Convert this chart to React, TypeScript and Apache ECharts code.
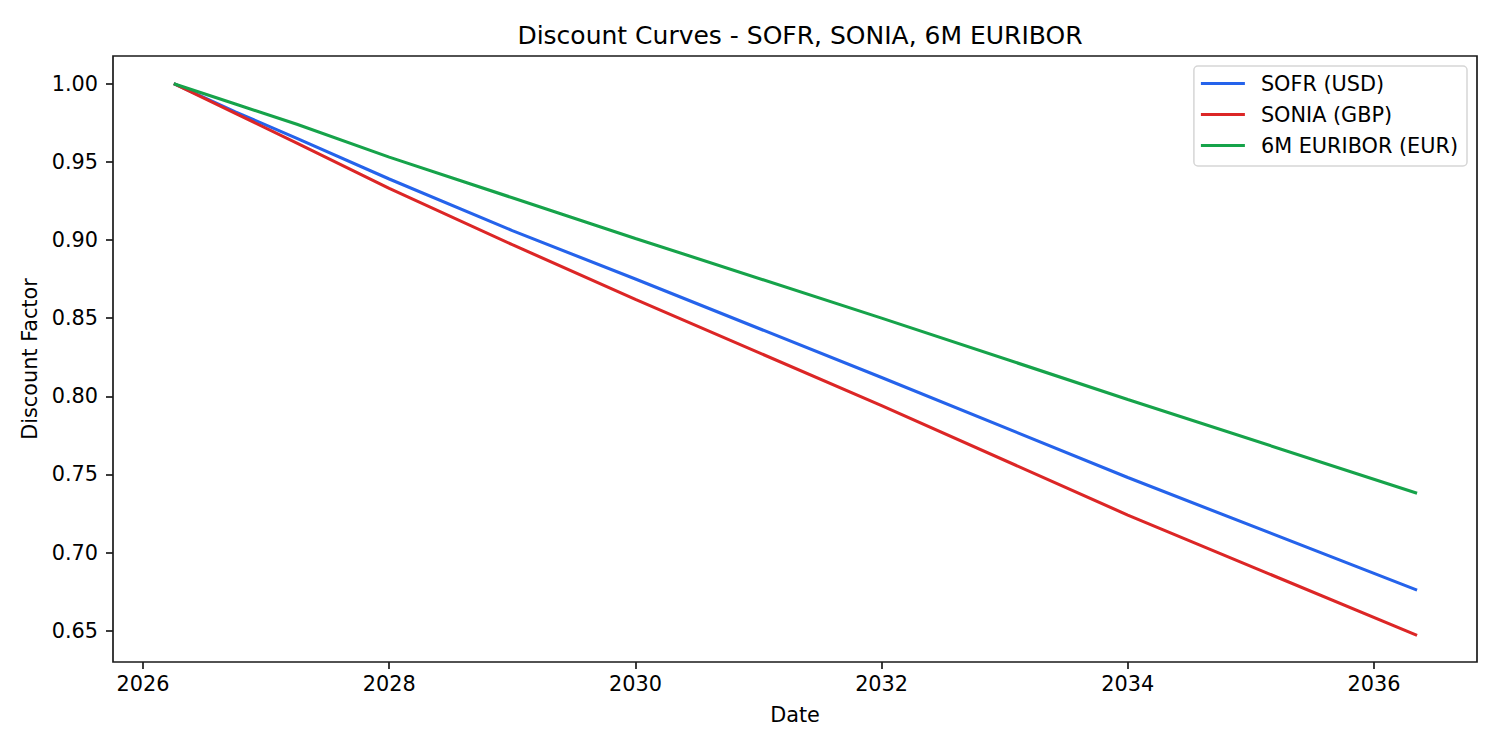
import { useEffect, useRef } from 'react'
import * as echarts from 'echarts'

// pillar dates as decimal years (2026-04-01 .. 2036-05-07)
const pillarYears = [2026.25, 2026.75, 2027.25, 2028.0, 2029.0, 2030.0, 2032.0, 2034.0, 2036.35]

const sofrUsd = [1.0, 0.982, 0.965, 0.939, 0.906, 0.875, 0.812, 0.748, 0.676]
const soniaGbp = [1.0, 0.981, 0.962, 0.933, 0.897, 0.862, 0.794, 0.724, 0.647]
const euribor6m = [1.0, 0.987, 0.974, 0.953, 0.927, 0.901, 0.85, 0.798, 0.738]

const yearTicks = [2026, 2028, 2030, 2032, 2034, 2036]
const dfTicks = [0.65, 0.7, 0.75, 0.8, 0.85, 0.9, 0.95, 1.0]

const FONT = 'DejaVu Sans'
const INK = '#1a1a1a'

function toPairs(values: number[]) {
  return values.map((v, i) => [pillarYears[i], v])
}

export default function App() {
  const ref = useRef<HTMLDivElement>(null)

  useEffect(() => {
    const el = ref.current
    if (!el) return
    const chart = echarts.init(el, undefined, { renderer: 'svg' })

    const line = (name: string, color: string, values: number[]) => ({
      name,
      type: 'line' as const,
      data: toPairs(values),
      showSymbol: false,
      color,
      lineStyle: { color, width: 3.1 },
    })

    chart.setOption({
      animation: false,
      backgroundColor: '#ffffff',
      textStyle: { fontFamily: FONT, color: '#000' },
      title: {
        text: 'Discount Curves - SOFR, SONIA, 6M EURIBOR',
        left: 795,
        top: 18,
        textAlign: 'center',
        textStyle: { fontFamily: FONT, fontSize: 25, fontWeight: 'normal', color: '#000' },
      },
      legend: {
        orient: 'vertical',
        right: 33,
        top: 66,
        icon: 'rect',
        itemWidth: 44,
        itemHeight: 3,
        itemGap: 10,
        padding: [7, 9, 10, 7],
        borderColor: '#d6d6d6',
        borderWidth: 1.5,
        borderRadius: 4,
        backgroundColor: 'rgba(255,255,255,0.8)',
        textStyle: {
          fontFamily: FONT,
          fontSize: 20.8,
          lineHeight: 20,
          color: '#000',
          padding: [0, 0, 0, 11],
        },
      },
      grid: {
        left: 113,
        right: 23,
        top: 56,
        bottom: 88,
        show: true,
        borderColor: INK,
        borderWidth: 1.7,
      },
      xAxis: {
        type: 'value',
        min: 2025.756,
        max: 2036.837,
        name: 'Date',
        nameLocation: 'middle',
        nameGap: 42,
        nameTextStyle: { fontFamily: FONT, fontSize: 20.8, color: '#000' },
        axisLine: { show: false },
        splitLine: { show: false },
        axisTick: {
          show: true,
          inside: false,
          length: 7,
          customValues: yearTicks,
          lineStyle: { color: INK, width: 1.7 },
        },
        axisLabel: {
          customValues: yearTicks,
          margin: 11,
          fontFamily: FONT,
          fontSize: 20.8,
          color: '#000',
          formatter: (v: number) => String(Math.round(v)),
        },
      },
      yAxis: {
        type: 'value',
        min: 0.63,
        max: 1.0177,
        name: 'Discount Factor',
        nameLocation: 'middle',
        nameRotate: 90,
        nameGap: 71,
        nameTextStyle: { fontFamily: FONT, fontSize: 20.8, color: '#000' },
        axisLine: { show: false },
        splitLine: { show: false },
        axisTick: {
          show: true,
          inside: false,
          length: 7,
          customValues: dfTicks,
          lineStyle: { color: INK, width: 1.7 },
        },
        axisLabel: {
          customValues: dfTicks,
          margin: 15,
          fontFamily: FONT,
          fontSize: 20.8,
          color: '#000',
          formatter: (v: number) => v.toFixed(2),
        },
      },
      series: [
        line('SOFR (USD)', '#2563eb', sofrUsd),
        line('SONIA (GBP)', '#dc2626', soniaGbp),
        line('6M EURIBOR (EUR)', '#16a34a', euribor6m),
      ],
    })

    return () => chart.dispose()
  }, [])

  return (
    <div
      ref={ref}
      style={{ position: 'fixed', left: 0, top: 0, width: 1500, height: 750, background: '#fff' }}
    />
  )
}
